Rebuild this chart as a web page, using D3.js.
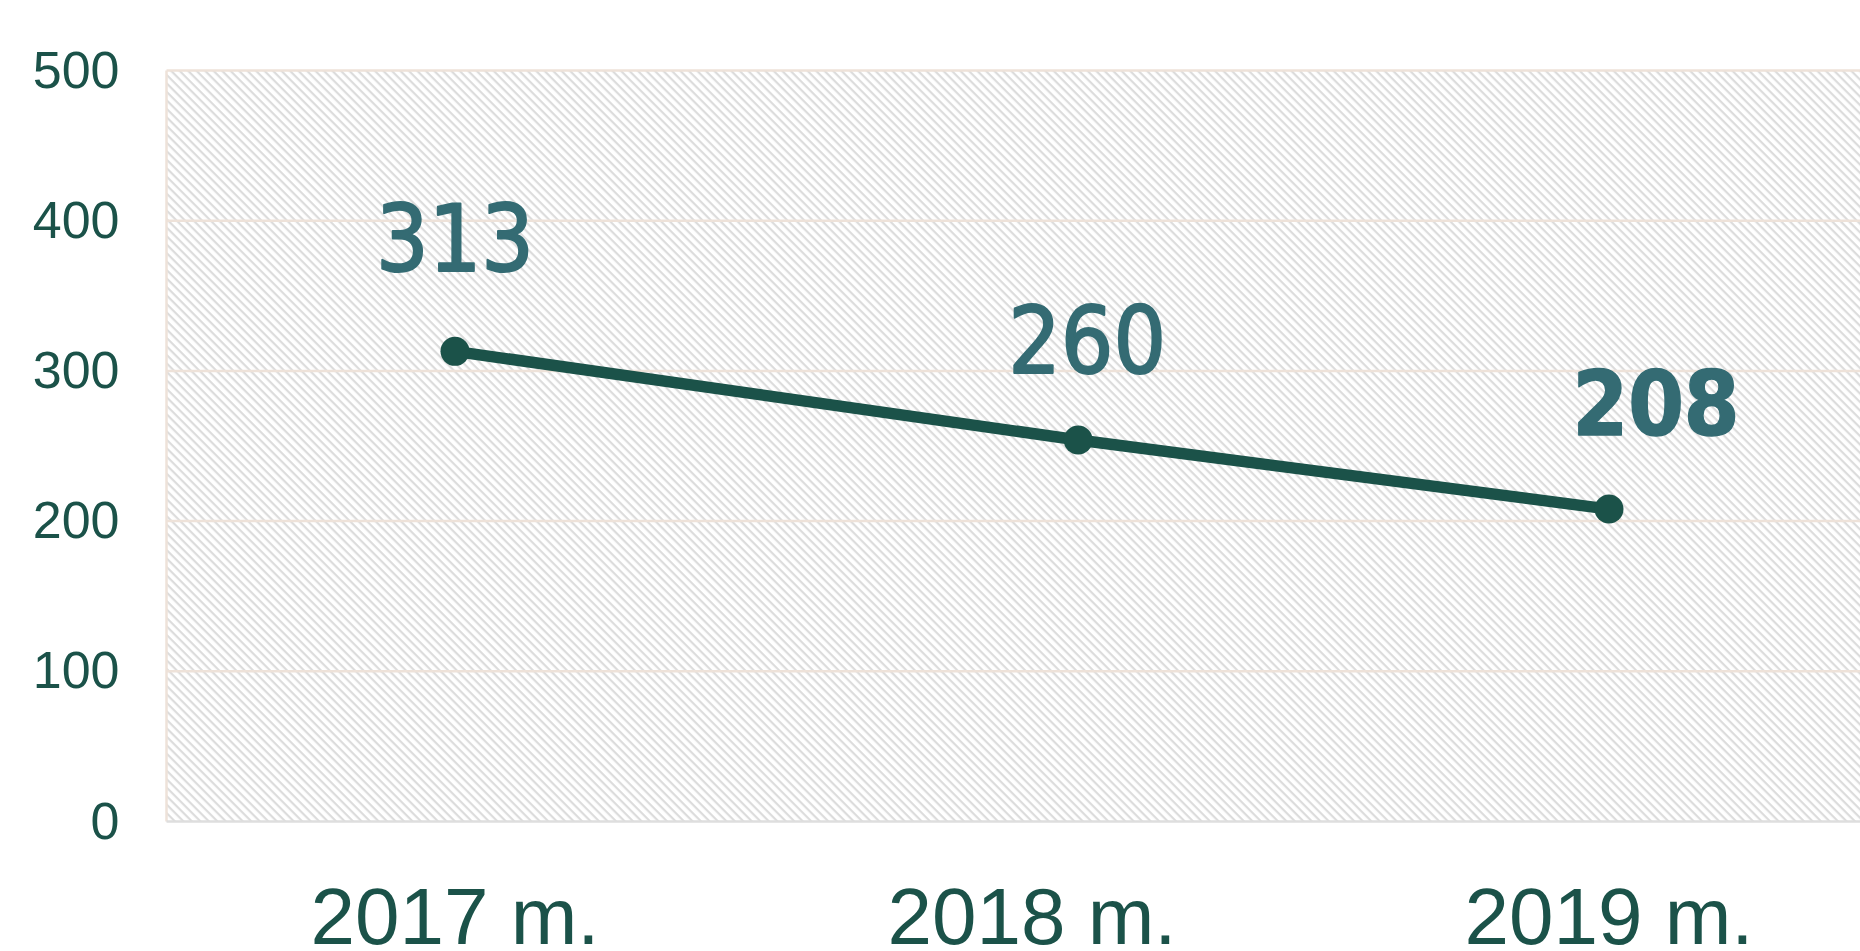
<!DOCTYPE html>
<html>
<head>
<meta charset="utf-8">
<script src="https://cdn.jsdelivr.net/npm/d3@7"></script>
<style>
  html, body { margin: 0; padding: 0; background: #fff; }
  svg { display: block; }
</style>
</head>
<body>
<div id="container"></div>
<script>
'use strict';

// Data.
const years = ['2017 m.', '2018 m.', '2019 m.'];
const values = [313, 254, 208];          // where the points sit
const valueLabels = ['313', '260', '208'];
const yTicks = [0, 100, 200, 300, 400, 500];

// Layout.
const w = 1860;
const h = 951;
const plotLeft = 166.5;
const plotTop = 70.5;
const plotBottom = 821.5;
const step = 577;                        // category width, plot runs past the right edge
const pointShift = [0, 0.08, 0];         // middle point is drawn a bit right of its category
const labelNudge = [[0, -80], [9, -67], [47, -74]];
const labelBold = [false, false, true];

const dark = '#1b5249';
const teal = '#346b73';
const beige = '#eee2d9';

const svg = d3.select('#container')
    .append('svg')
    .attr('width', w)
    .attr('height', h);

// Hatched background.
const hatch = 6;
const pattern = svg.append('defs')
    .append('pattern')
    .attr('id', 'hatch')
    .attr('patternUnits', 'userSpaceOnUse')
    .attr('width', hatch)
    .attr('height', hatch)
    .attr('patternTransform', 'rotate(45)');
pattern.append('rect')
    .attr('width', hatch)
    .attr('height', hatch)
    .attr('fill', '#fff');
pattern.append('rect')
    .attr('width', hatch)
    .attr('height', 2.2)
    .attr('fill', '#dcdcdc');

const xScale = d3.scaleBand()
    .domain(years)
    .range([plotLeft, plotLeft + step * years.length]);
const yScale = d3.scaleLinear()
    .domain([0, 500])
    .range([plotBottom, plotTop]);

svg.append('rect')
    .attr('x', plotLeft)
    .attr('y', plotTop)
    .attr('width', w - plotLeft)
    .attr('height', plotBottom - plotTop)
    .attr('fill', 'url(#hatch)');

// Grid lines.
svg.append('g')
    .selectAll('line')
    .data(yTicks.filter(d => d > 0))
    .enter()
    .append('line')
    .attr('x1', plotLeft)
    .attr('x2', w)
    .attr('y1', d => yScale(d))
    .attr('y2', d => yScale(d))
    .attr('stroke', beige)
    .attr('stroke-width', 2.5);

svg.append('line')
    .attr('x1', plotLeft)
    .attr('x2', plotLeft)
    .attr('y1', plotTop)
    .attr('y2', plotBottom)
    .attr('stroke', beige)
    .attr('stroke-width', 2.5);

svg.append('line')
    .attr('x1', plotLeft)
    .attr('x2', w)
    .attr('y1', plotBottom)
    .attr('y2', plotBottom)
    .attr('stroke', '#dedede')
    .attr('stroke-width', 2.5);

// y-axis labels.
const yAxis = d3.axisLeft(yScale)
    .tickValues(yTicks)
    .tickSize(0)
    .tickPadding(47);
const yg = svg.append('g')
    .attr('transform', 'translate(' + plotLeft + ', 0)')
    .call(yAxis);
yg.select('.domain').remove();
yg.selectAll('text')
    .attr('fill', dark)
    .attr('font-family', '"Liberation Sans", Arial, sans-serif')
    .attr('font-size', 52);

// x-axis labels.
const xAxis = d3.axisBottom(xScale)
    .tickSize(0)
    .tickPadding(0);
const xg = svg.append('g')
    .attr('transform', 'translate(0, ' + plotBottom + ')')
    .call(xAxis);
xg.select('.domain').remove();
xg.selectAll('text')
    .attr('dy', null)
    .attr('y', 122)
    .attr('fill', dark)
    .attr('font-family', '"Liberation Sans", Arial, sans-serif')
    .attr('font-size', 80);

// Line and points.
const points = years.map((year, i) => ({
    x: xScale(year) + xScale.bandwidth() / 2 + pointShift[i] * xScale.step(),
    y: yScale(values[i]),
    i: i
}));

svg.append('path')
    .datum(points)
    .attr('d', d3.line().x(d => d.x).y(d => d.y))
    .attr('fill', 'none')
    .attr('stroke', dark)
    .attr('stroke-width', 11.5)
    .attr('stroke-linejoin', 'round');

svg.append('g')
    .selectAll('circle')
    .data(points)
    .enter()
    .append('circle')
    .attr('cx', d => d.x)
    .attr('cy', d => d.y)
    .attr('r', 14.5)
    .attr('fill', dark);

// Value labels.
svg.append('g')
    .selectAll('text')
    .data(points)
    .enter()
    .append('text')
    .attr('x', d => d.x + labelNudge[d.i][0])
    .attr('y', d => d.y + labelNudge[d.i][1])
    .attr('text-anchor', 'middle')
    .attr('fill', teal)
    .attr('stroke', teal)
    .attr('stroke-width', d => labelBold[d.i] ? 1.5 : 2)
    .attr('stroke-linejoin', 'round')
    .attr('font-family', '"DejaVu Sans Condensed", "DejaVu Sans", sans-serif')
    .attr('font-stretch', 'condensed')
    .attr('font-weight', d => labelBold[d.i] ? 'bold' : 'normal')
    .attr('font-size', d => labelBold[d.i] ? 89 : 92)
    .text(d => valueLabels[d.i]);
</script>
</body>
</html>
